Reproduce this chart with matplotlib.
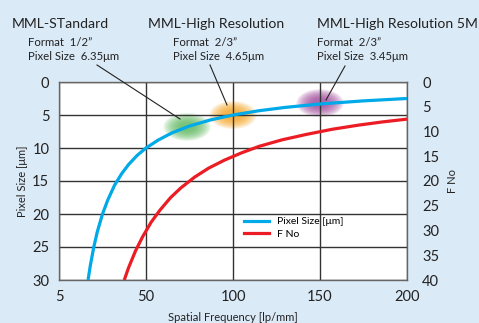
import matplotlib
matplotlib.use("Agg")
import matplotlib.pyplot as plt
from matplotlib.patches import Ellipse
from matplotlib.lines import Line2D

plt.rcParams['font.family'] = ['Lato', 'DejaVu Sans']

# Data
freq_px = [16.7, 18, 20, 22, 25, 28, 32, 36, 40, 45, 50, 57, 65, 75, 87, 100, 115, 130, 150, 175, 200]
pixel_size = [30, 27.8, 25, 22.7, 20, 17.9, 15.6, 13.9, 12.5, 11.1, 10, 8.8, 7.7, 6.67, 5.75, 5, 4.35, 3.85, 3.33, 2.86, 2.5]
freq_f = [37.5, 40, 44, 48, 53, 58, 64, 70, 78, 86, 95, 105, 115, 128, 142, 157, 172, 186, 200]
f_no = [40, 37.5, 34.1, 31.3, 28.3, 25.9, 23.4, 21.4, 19.2, 17.4, 15.8, 14.3, 13.0, 11.7, 10.6, 9.55, 8.72, 8.06, 7.5]

x_ticks = [0, 50, 100, 150, 200]
x_labels = ['5', '50', '100', '150', '200']
left_ticks = [0, 5, 10, 15, 20, 25, 30]
right_ticks = [0, 5, 10, 15, 20, 25, 30, 35, 40]

products = ["MML-STandard", "MML-High Resolution", "MML-High Resolution 5M"]
formats = ["Format  1/2\u201d", "Format  2/3\u201d", "Format  2/3\u201d"]
sizes = ["Pixel Size  6.35\u03bcm", "Pixel Size  4.65\u03bcm", "Pixel Size  3.45\u03bcm"]
blob_x = [73.6, 100, 150]
blob_y = [6.8, 5.0, 3.2]
blob_colors = ['#5cb85c', '#f7a21b', '#a0479a']

W, H = 479, 323
fig = plt.figure(figsize=(W / 100, H / 100), dpi=100)
fig.patch.set_facecolor('#dbeaf7')

def fx(x):
    return x / W

def fy(y):
    return 1 - y / H

ax = fig.add_axes([fx(59), fy(280), 348 / W, 198 / H])
ax.set_facecolor('white')
ax.set_xlim(0, 200)
ax.set_ylim(30, 0)
ax.set_xticks(x_ticks)
ax.set_xticklabels(x_labels)
ax.set_yticks(left_ticks)
ax.tick_params(length=0, labelsize=10.5, colors='#222222', pad=7)
ax.grid(True, color='#333333', lw=1)
for s in ax.spines.values():
    s.set_color('#666666')
    s.set_linewidth(1)

# blobs
for bx, by, bc in zip(blob_x, blob_y, blob_colors):
    for k in range(10):
        sc = 1 - k * 0.075
        ax.add_patch(Ellipse((bx, by), 27 * sc, 4.2 * sc, facecolor=bc,
                             edgecolor='none', alpha=0.15, zorder=1))

ax.plot(freq_px, pixel_size, color='#00a9e8', lw=2.3, zorder=3, solid_capstyle='butt')

ax2 = ax.twinx()
ax2.set_ylim(40, 0)
ax2.set_yticks(right_ticks)
ax2.tick_params(length=0, labelsize=10.5, colors='#222222', pad=11)
for s in ax2.spines.values():
    s.set_visible(False)
ax2.plot(freq_f, f_no, color='#ec1c24', lw=2.3, zorder=3, solid_capstyle='butt')

h1 = Line2D([], [], color='#00a9e8', lw=2.3)
h2 = Line2D([], [], color='#ec1c24', lw=2.3)
ax2.legend([h1, h2], ['Pixel Size [\u03bcm]', 'F No'], frameon=False,
           fontsize=7.5, loc='upper left', bbox_to_anchor=(fx(244), fy(217)),
           bbox_transform=fig.transFigure, handlelength=2.4, handletextpad=0.8,
           labelspacing=0.3, borderaxespad=0, borderpad=0)

ax.set_xlabel('Spatial Frequency [lp/mm]', fontsize=8, color='#222222', labelpad=6)
fig.text(fx(22), fy(181), 'Pixel Size [\u03bcm]', rotation=90, fontsize=8,
         color='#222222', ha='center', va='center')
fig.text(fx(453), fy(181), 'F No', rotation=90, fontsize=8,
         color='#222222', ha='center', va='center')

# header texts
prod_x = [12, 148, 317]
sub_x = [28, 173, 317]
for px_, sx_, p, f, s in zip(prod_x, sub_x, products, formats, sizes):
    fig.text(fx(px_), fy(24), p, fontsize=10.1, color='#222222', ha='left', va='center')
    fig.text(fx(sx_), fy(43), f, fontsize=8.2, color='#222222', ha='left', va='center')
    fig.text(fx(sx_), fy(56), s, fontsize=8.2, color='#222222', ha='left', va='center')

for (x0, y0), (x1, y1) in [((97, 65), (180, 119)), ((210, 65), (227, 105)), ((345, 66), (326, 100))]:
    fig.add_artist(Line2D([fx(x0), fx(x1)], [fy(y0), fy(y1)], transform=fig.transFigure,
                          color='#222222', lw=0.8, zorder=10))

fig.savefig('out.png', dpi=100, facecolor=fig.get_facecolor())
